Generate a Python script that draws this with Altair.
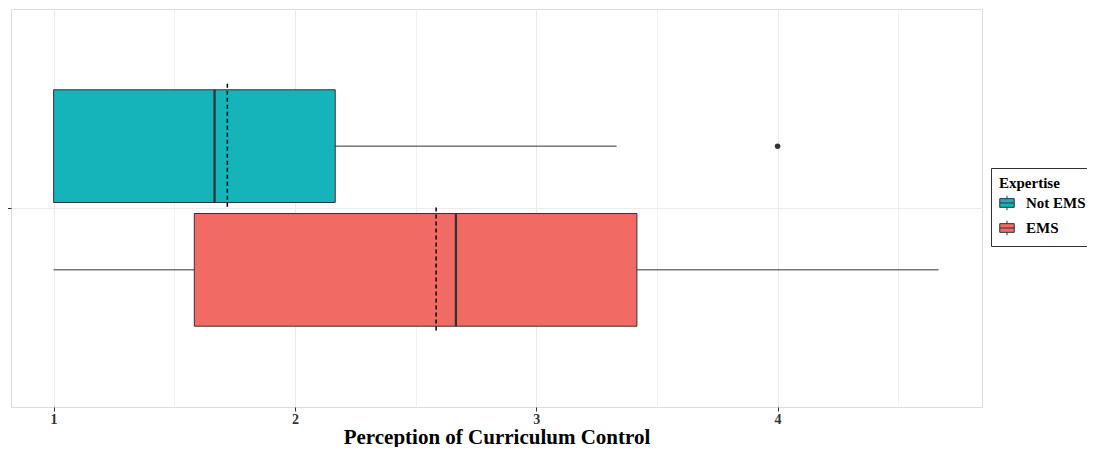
import altair as alt
import pandas as pd

# ---- data ----
expertise = ["Not EMS", "EMS"]
whisker_low = [1.0, 1.0]
q1 = [1.0, 1.583]
median = [1.667, 2.667]
q3 = [2.167, 3.417]
whisker_high = [3.333, 4.667]
means = [1.72, 2.585]
outlier_group = ["Not EMS"]
outlier_value = [4.0]
x_breaks = [1, 1.5, 2, 2.5, 3, 3.5, 4, 4.5]
colors = ["#14B4BA", "#F26A64"]

stats = pd.DataFrame({
    "expertise": expertise,
    "wlo": whisker_low,
    "q1": q1,
    "median": median,
    "q3": q3,
    "whi": whisker_high,
    "mean": means,
})
outliers = pd.DataFrame({"expertise": outlier_group, "value": outlier_value})
center = pd.DataFrame({"grp": [""]})

FONT = "Liberation Serif"
DARK = "#333333"

x_scale = alt.Scale(domain=[0.8235, 4.847], nice=False, zero=False)
y_scale = alt.Scale(domain=expertise, paddingInner=0.089, paddingOuter=0.653)

minor_test = "datum.value % 1 !== 0"
x_axis = alt.Axis(
    values=x_breaks,
    labelExpr="datum.value % 1 === 0 ? '' + datum.value : ''",
    title="Perception of Curriculum Control",
    grid=True,
    gridColor="#EBEBEB",
    gridWidth={"condition": {"test": minor_test, "value": 0.7}, "value": 1.1},
    tickOpacity={"condition": {"test": minor_test, "value": 0}, "value": 1},
    tickColor=DARK,
    tickSize=4,
    domain=False,
    labelFont=FONT,
    labelFontSize=14,
    labelFontWeight="bold",
    labelColor=DARK,
    labelPadding=1,
    titleFont=FONT,
    titleFontSize=21,
    titleFontWeight="bold",
    titleColor="black",
    titlePadding=0,
)

legend_symbol = "M-1,-0.6L1,-0.6L1,0.6L-1,0.6Z M-1,0L1,0 M0,-0.6L0,-1 M0,0.6L0,1"

box = alt.Chart(stats).mark_bar(stroke=DARK, strokeWidth=1).encode(
    x=alt.X("q1:Q", scale=x_scale, axis=x_axis),
    x2="q3:Q",
    y=alt.Y("expertise:N", scale=y_scale, axis=None),
    fill=alt.Fill(
        "expertise:N",
        scale=alt.Scale(domain=expertise, range=colors),
        legend=alt.Legend(
            title="Expertise",
            orient="none",
            legendX=980,
            legendY=159,
            padding=8,
            strokeColor=DARK,
            fillColor="white",
            cornerRadius=0,
            titleFont=FONT,
            titleFontSize=15,
            titleFontWeight="bold",
            titleColor="black",
            titlePadding=4,
            labelFont=FONT,
            labelFontSize=15,
            labelFontWeight="bold",
            labelColor="black",
            labelOffset=11,
            symbolType=legend_symbol,
            symbolSize=210,
            symbolStrokeColor=DARK,
            symbolStrokeWidth=1,
            symbolOpacity=1,
            rowPadding=5,
        ),
    ),
)

whisk_lo = alt.Chart(stats).mark_rule(color=DARK, strokeWidth=1).encode(
    x="wlo:Q", x2="q1:Q", y="expertise:N"
)
whisk_hi = alt.Chart(stats).mark_rule(color=DARK, strokeWidth=1).encode(
    x="q3:Q", x2="whi:Q", y="expertise:N"
)
med = alt.Chart(stats).mark_rule(color=DARK, strokeWidth=2.3).encode(
    x="median:Q",
    y=alt.Y("expertise:N", bandPosition=0),
    y2=alt.Y2("expertise", bandPosition=1),
)
mean_line = alt.Chart(stats).mark_rule(
    color="black", strokeWidth=1.5, strokeDash=[4, 3], yOffset=-6, y2Offset=6
).encode(
    x="mean:Q",
    y=alt.Y("expertise:N", bandPosition=0),
    y2=alt.Y2("expertise", bandPosition=1),
)
outl = alt.Chart(outliers).mark_circle(size=30, color=DARK, opacity=1).encode(
    x="value:Q", y="expertise:N"
)

main = alt.layer(box, whisk_lo, whisk_hi, med, mean_line, outl)

center_axis = alt.Chart(center).mark_point(opacity=0).encode(
    y=alt.Y(
        "grp:N",
        axis=alt.Axis(
            title=None,
            labels=False,
            ticks=True,
            tickSize=4,
            tickColor=DARK,
            grid=True,
            gridColor="#EBEBEB",
            gridWidth=1.1,
            domain=False,
        ),
    )
)

chart = (
    alt.layer(center_axis, main)
    .resolve_scale(y="independent")
    .properties(
        width=971,
        height=398,
        autosize=alt.AutoSizeParams(type="none"),
        padding={"left": 3, "top": 1, "right": 105, "bottom": 40},
    )
    .configure_view(stroke=DARK, strokeWidth=1)
    .configure(background="white")
)

chart.save("out.html", embed_options={"renderer": "svg", "actions": False})
